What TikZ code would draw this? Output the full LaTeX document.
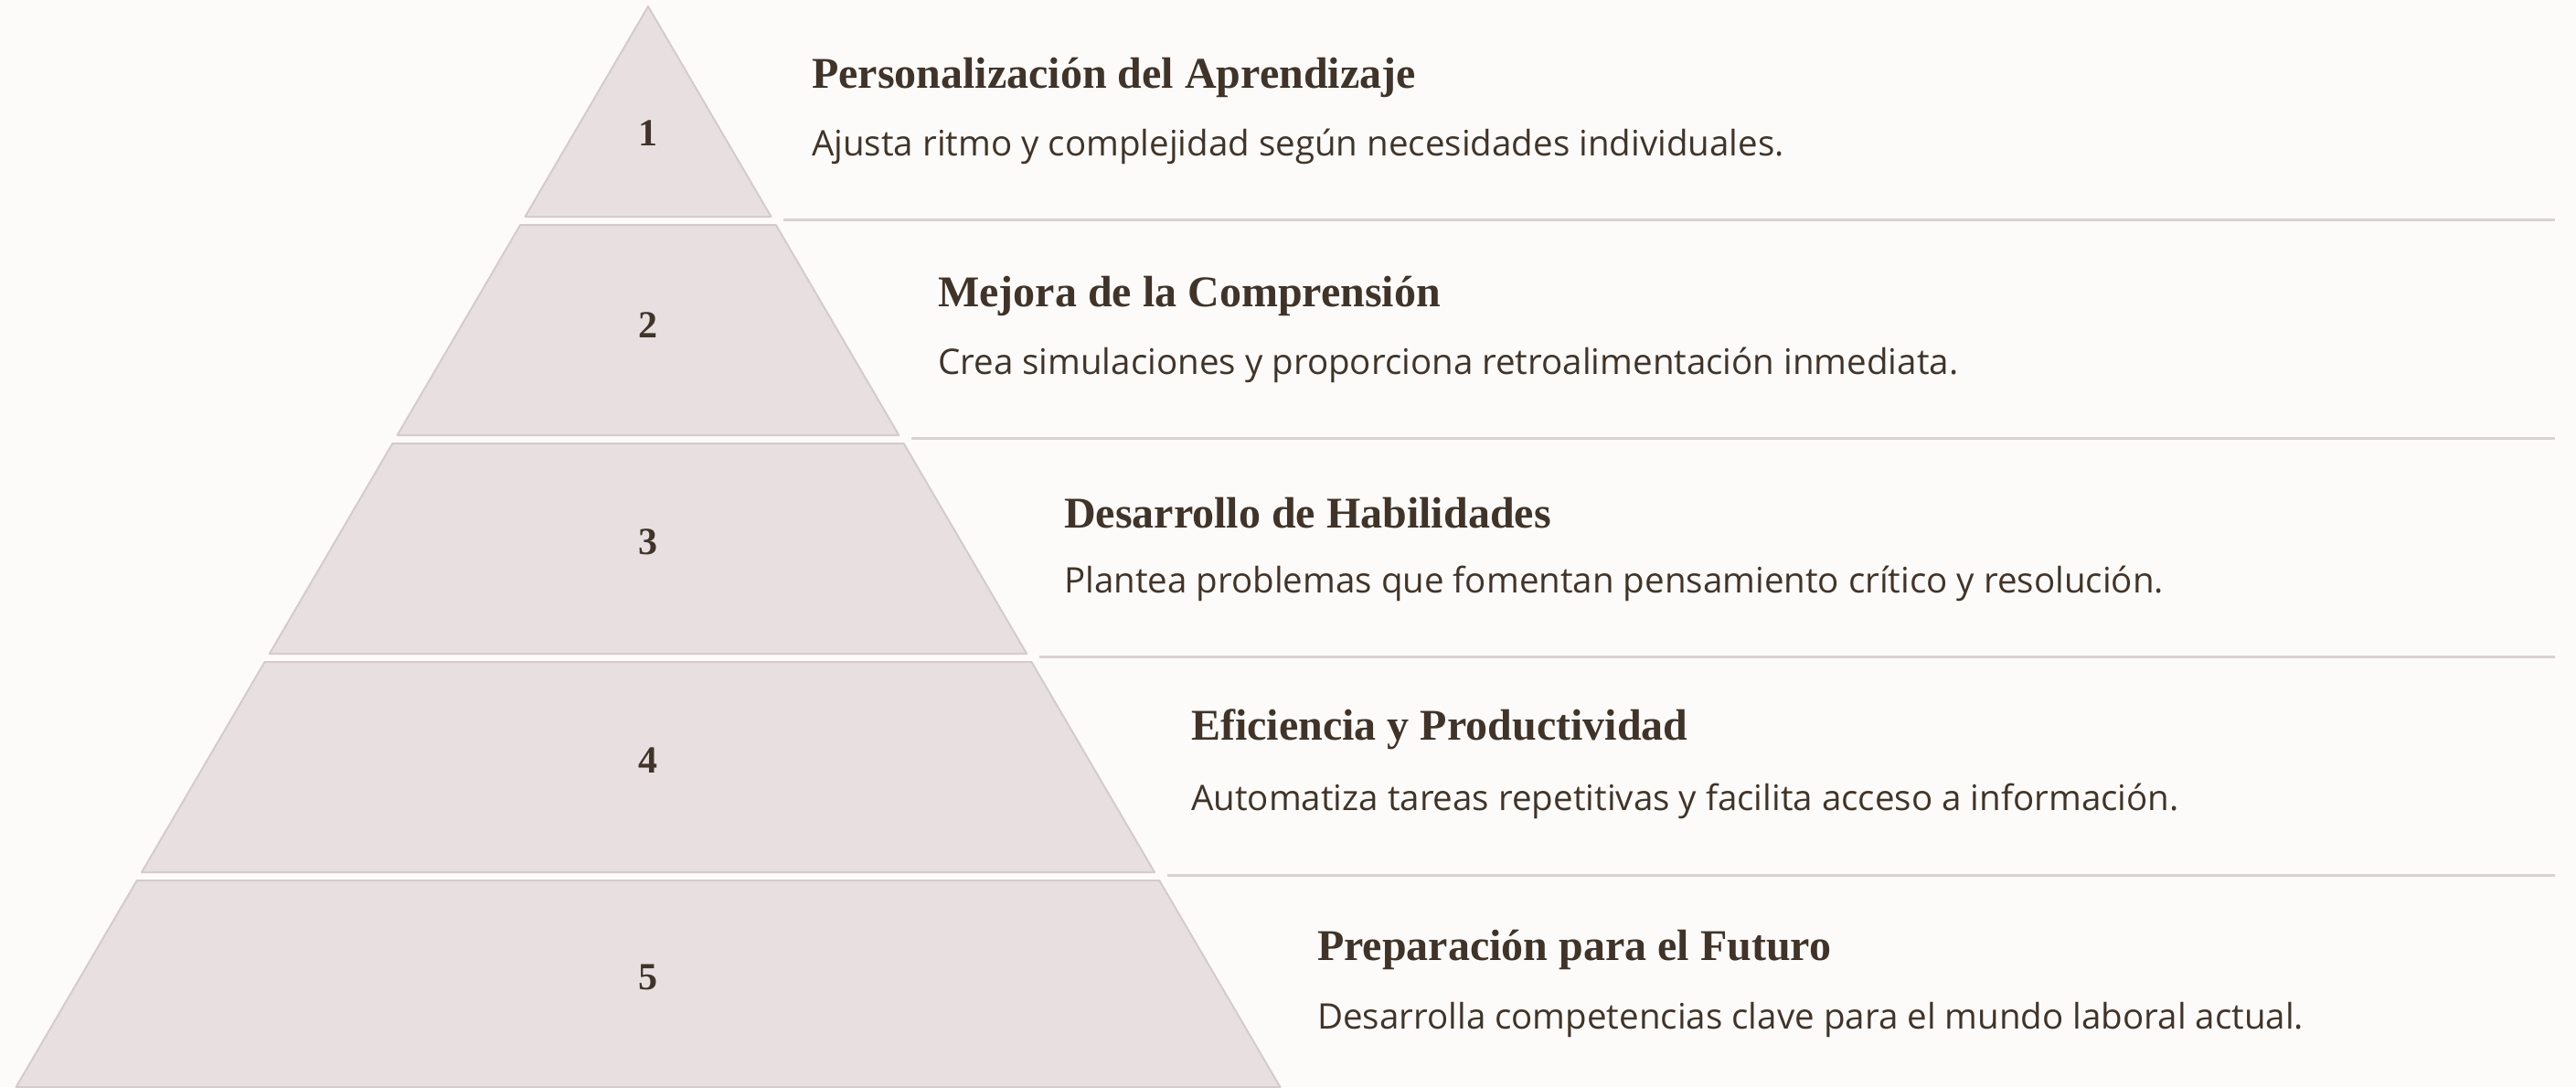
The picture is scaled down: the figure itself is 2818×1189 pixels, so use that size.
\documentclass[tikz,border=0pt]{standalone}
\usepackage{fontspec}
\newfontfamily\titlefont{Liberation Serif}
\newfontfamily\descfont{Open Sans}
\definecolor{bgc}{HTML}{FDFBF9}
\definecolor{fillc}{HTML}{E8E0E0}
\definecolor{edgec}{HTML}{D3CCCB}
\definecolor{textc}{HTML}{40342A}
\definecolor{linec}{HTML}{D8D2D0}
\tikzset{
  level/.style={fill=fillc, draw=edgec, line width=2pt, line join=round},
  sepline/.style={draw=linec, line width=3pt},
  numtext/.style={text=textc, font=\titlefont\bfseries\fontsize{42}{50}\selectfont, inner sep=0pt},
  titletext/.style={text=textc, anchor=west, font=\titlefont\bfseries\fontsize{48}{56}\selectfont, inner sep=0pt},
  desctext/.style={text=textc, anchor=west, font=\descfont\fontsize{38.5}{46}\selectfont, inner sep=0pt}
}
\begin{document}
\begin{tikzpicture}[x=1pt,y=-1pt]
\useasboundingbox (0,0) rectangle (2818,1189);
\fill[bgc] (0,0) rectangle (2818,1189);
% level trapezoids
\foreach \i in {1,...,5}{
  \pgfmathsetmacro{\t}{7+239*(\i-1)}
  \pgfmathsetmacro{\b}{min(\t+230,1189)}
  \pgfmathsetmacro{\ht}{0.585*(\t-7)}
  \pgfmathsetmacro{\hb}{0.585*(\b-7)}
  \draw[level] (709-\ht,\t) -- (709+\ht,\t) -- (709+\hb,\b) -- (709-\hb,\b) -- cycle;
}
% separators
\foreach \i in {1,...,4}{
  \pgfmathsetmacro{\y}{240+239*(\i-1)}
  \pgfmathsetmacro{\xs}{709+0.585*(\y-7)+12}
  \coordinate (s\i) at (\xs,\y);
  \coordinate (e\i) at (2795,\y);
  \draw[sepline] (s\i) -- (e\i);
}
% numbers
\node[numtext] (n1) at (709,146) {1};
\node[numtext] (n2) at (709,356) {2};
\node[numtext] (n3) at (709,593) {3};
\node[numtext] (n4) at (709,832) {4};
\node[numtext] (n5) at (709,1069) {5};
% titles
\node[titletext] (t1) at (888,85) {Personalización del Aprendizaje};
\node[titletext] (t2) at (1026,324) {Mejora de la Comprensión};
\node[titletext] (t3) at (1164,561) {Desarrollo de Habilidades};
\node[titletext] (t4) at (1303,798) {Eficiencia y Productividad};
\node[titletext] (t5) at (1441,1039) {Preparación para el Futuro};
% descriptions
\node[desctext] (d1) at (888,160) {Ajusta ritmo y complejidad según necesidades individuales.};
\node[desctext] (d2) at (1026,399) {Crea simulaciones y proporciona retroalimentación inmediata.};
\node[desctext] (d3) at (1164,638) {Plantea problemas que fomentan pensamiento crítico y resolución.};
\node[desctext] (d4) at (1303,876) {Automatiza tareas repetitivas y facilita acceso a información.};
\node[desctext] (d5) at (1441,1115) {Desarrolla competencias clave para el mundo laboral actual.};
\end{tikzpicture}
\end{document}
